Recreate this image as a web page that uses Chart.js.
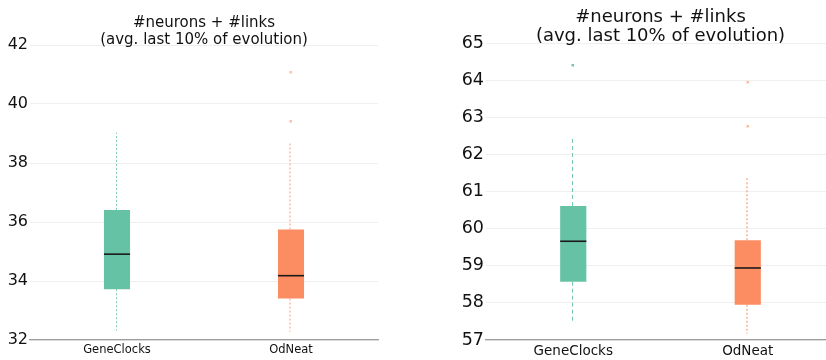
<!DOCTYPE html>
<html>
<head>
<meta charset="utf-8">
<script src="https://cdn.jsdelivr.net/npm/chart.js@4.4.1/dist/chart.umd.min.js"></script>
<style>
  html, body { margin: 0; padding: 0; background: #fff; overflow: hidden; width: 826px; height: 360px; }
  .panel { position: absolute; top: 0; height: 360px; }
</style>
</head>
<body>
<div class="panel" style="left:0;width:413px"><canvas id="left" width="413" height="360"></canvas></div>
<div class="panel" style="left:413px;width:430px"><canvas id="right" width="430" height="360"></canvas></div>
<script>
// ---------- data ----------
const categories = ['GeneClocks', 'OdNeat'];
const titleLines = ['#neurons + #links', '(avg. last 10% of evolution)'];

// left panel
const leftQ1 = [33.72, 33.41];
const leftMedian = [34.91, 34.18];
const leftQ3 = [36.41, 35.75];
const leftLow = [32.32, 32.28];
const leftHigh = [39.03, 38.67];
const leftOutliers = [[], [41.08, 39.41]];
const leftTicks = [32, 34, 36, 38, 40, 42];

// right panel
const rightQ1 = [58.57, 57.95];
const rightMedian = [59.66, 58.94];
const rightQ3 = [60.61, 59.69];
const rightLow = [57.48, 57.17];
const rightHigh = [62.46, 61.38];
const rightOutliers = [[64.41], [63.94, 62.77]];
const rightTicks = [57, 58, 59, 60, 61, 62, 63, 64, 65];

const FONT = '"DejaVu Sans", Verdana, sans-serif';
const fill = ['#66c2a5', '#fc8d62'];

// whiskers, medians, fliers drawn over the floating bars, positioned by the chart's own scales
const boxExtras = {
  id: 'boxExtras',
  afterDatasetsDraw(chart, args, o) {
    const { ctx, scales: { y } } = chart;
    const meta = chart.getDatasetMeta(0);
    const s = o.series;
    meta.data.forEach((bar, i) => {
      const cx = o.wWidth[i] % 2 ? Math.round(bar.x) - 0.5 : Math.round(bar.x) - 1;
      const half = bar.width / 2;
      ctx.save();
      ctx.strokeStyle = o.wColor[i];
      ctx.lineWidth = o.wWidth[i];
      ctx.setLineDash(o.wDash[i]);
      ctx.beginPath();
      ctx.moveTo(cx, y.getPixelForValue(s.q3[i]));
      ctx.lineTo(cx, y.getPixelForValue(s.high[i]));
      ctx.moveTo(cx, y.getPixelForValue(s.q1[i]));
      ctx.lineTo(cx, y.getPixelForValue(s.low[i]));
      ctx.stroke();
      ctx.setLineDash([]);
      // median
      ctx.strokeStyle = '#1a1a1a';
      ctx.lineWidth = 1.6;
      const my = y.getPixelForValue(s.median[i]);
      ctx.beginPath();
      ctx.moveTo(bar.x - half, my);
      ctx.lineTo(bar.x + half, my);
      ctx.stroke();
      // fliers
      ctx.fillStyle = o.fColor[i];
      s.out[i].forEach(v => {
        const py = y.getPixelForValue(v);
        ctx.fillRect(Math.round(bar.x) - 1.5, Math.round(py) - 1, 2.5, 2.5);
      });
      ctx.restore();
    });
  },
  afterDraw(chart, args, o) {
    const { ctx, chartArea } = chart;
    const cx = (chartArea.left + chartArea.right) / 2;
    ctx.save();
    ctx.fillStyle = '#111';
    ctx.font = o.titleSize + 'px ' + FONT;
    ctx.textAlign = 'center';
    ctx.textBaseline = 'alphabetic';
    titleLines.forEach((t, k) => ctx.fillText(t, cx, o.titleBase[k]));
    ctx.restore();
  }
};

function makePanel(id, cfg) {
  const s = cfg.series;
  return new Chart(document.getElementById(id), {
    type: 'bar',
    data: {
      labels: categories,
      datasets: [{
        data: s.q1.map((v, i) => [v, s.q3[i]]),
        backgroundColor: fill,
        borderWidth: 0,
        barPercentage: 0.15,
        categoryPercentage: 1
      }]
    },
    options: {
      responsive: false,
      animation: false,
      layout: { padding: cfg.pad },
      plugins: {
        legend: { display: false },
        tooltip: { enabled: false },
        title: { display: false },
        boxExtras: {
          series: s,
          titleSize: cfg.titleSize,
          titleBase: cfg.titleBase,
          wColor: cfg.wColor,
          wWidth: cfg.wWidth,
          wDash: cfg.wDash,
          fColor: cfg.fColor
        }
      },
      scales: {
        x: {
          grid: { display: false, drawTicks: false },
          border: { display: true, color: '#9d9d9d', width: 1.3 },
          ticks: { color: '#111', padding: cfg.xPad, font: { family: FONT, size: cfg.xSize } },
          afterFit: sc => { sc.height = 20; }
        },
        y: {
          min: cfg.ticks[0],
          max: cfg.ticks[cfg.ticks.length - 1],
          afterBuildTicks: sc => { sc.ticks = cfg.ticks.map(v => ({ value: v })); },
          grid: { color: '#efefef', lineWidth: 1, drawTicks: false },
          border: { display: false },
          ticks: { color: '#111', padding: 2, font: { family: FONT, size: cfg.ySize } },
          afterFit: sc => { sc.width = cfg.yWidth; }
        }
      }
    },
    plugins: [boxExtras]
  });
}

makePanel('left', {
  series: { q1: leftQ1, median: leftMedian, q3: leftQ3, low: leftLow, high: leftHigh, out: leftOutliers },
  ticks: leftTicks,
  pad: { top: 45, right: 35, bottom: 0, left: 0 },
  yWidth: 30, ySize: 16, xSize: 11.5, xPad: 3,
  titleSize: 15, titleBase: [27, 44],
  wColor: ['rgba(102,194,165,0.85)', 'rgba(252,141,98,0.45)'],
  wWidth: [1, 2],
  wDash: [[2, 2], [2, 2]],
  fColor: ['rgba(102,194,165,0.7)', 'rgba(252,141,98,0.55)']
});

makePanel('right', {
  series: { q1: rightQ1, median: rightMedian, q3: rightQ3, low: rightLow, high: rightHigh, out: rightOutliers },
  ticks: rightTicks,
  pad: { top: 43, right: 8, bottom: 0, left: 0 },
  yWidth: 73, ySize: 17.5, xSize: 13.5, xPad: 3,
  titleSize: 18, titleBase: [22, 41],
  wColor: ['rgba(102,194,165,0.9)', 'rgba(252,141,98,0.5)'],
  wWidth: [1, 2],
  wDash: [[4, 3], [2, 2]],
  fColor: ['rgba(102,194,165,0.9)', 'rgba(252,141,98,0.6)']
});
</script>
</body>
</html>
